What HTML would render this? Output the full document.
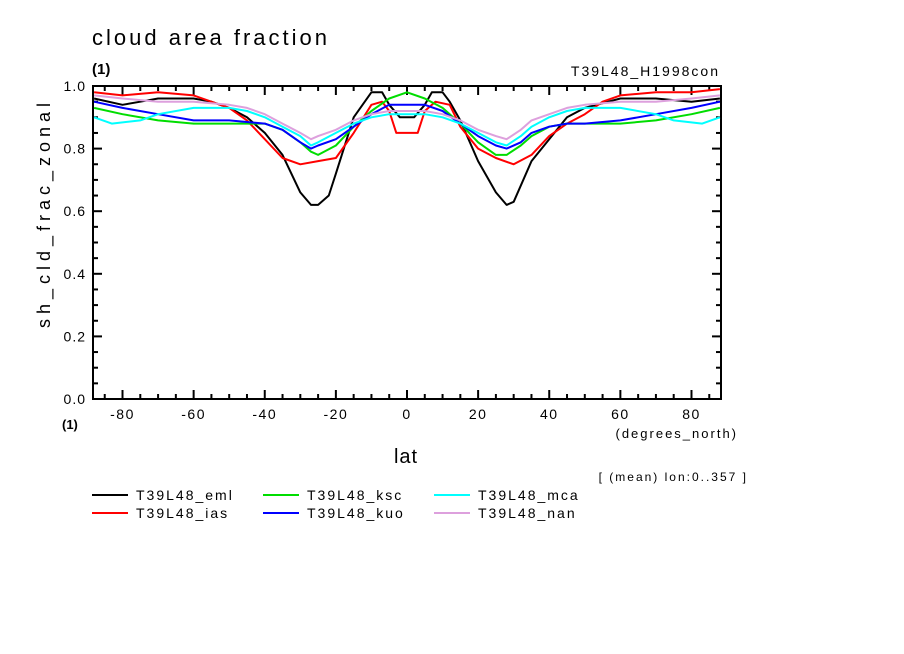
<!DOCTYPE html>
<html><head><meta charset="utf-8"><style>
body{margin:0;background:#fff;}
svg{display:block;font-family:"Liberation Sans",sans-serif;}
</style></head><body>
<svg id="chart" width="904" height="654" viewBox="0 0 904 654" xmlns="http://www.w3.org/2000/svg">
<rect width="904" height="654" fill="#fff"/>
<text x="92" y="45" font-size="22" letter-spacing="3">cloud area fraction</text>
<text x="92" y="74" font-size="15" font-weight="bold">(1)</text>
<text x="720" y="76" font-size="14" letter-spacing="2" text-anchor="end">T39L48_H1998con</text>
<text transform="translate(50,213) rotate(-90)" font-size="18" letter-spacing="5" text-anchor="middle">sh_cld_frac_zonal</text>
<text x="62" y="429" font-size="13" font-weight="bold">(1)</text>
<text x="738" y="438" font-size="13" letter-spacing="2" text-anchor="end">(degrees_north)</text>
<text x="406" y="463" font-size="20" letter-spacing="1" text-anchor="middle">lat</text>
<text x="748" y="481" font-size="12" letter-spacing="2" text-anchor="end">[ (mean) lon:0..357 ]</text>
<g id="axes"></g>
<g id="series"></g>
<g id="legend"></g>
</svg>
<script>
const yTicks=[0,0.2,0.4,0.6,0.8,1.0];
const xTicks=[-80,-60,-40,-20,0,20,40,60,80];
const names=["T39L48_eml","T39L48_ias","T39L48_ksc","T39L48_kuo","T39L48_mca","T39L48_nan"];
const colors=["#000000","#ff0000","#00dd00","#0000ff","#00ffff","#dda0dd"];
const latEml=[-88,-80,-75,-70,-65,-60,-55,-50,-45,-40,-35,-30,-27,-25,-22,-20,-15,-10,-7,-5,-2,0,2,5,7,10,12,15,20,25,28,30,35,40,45,50,60,70,80,88];
const valEml=[0.96,0.94,0.95,0.96,0.96,0.96,0.95,0.93,0.90,0.85,0.78,0.66,0.62,0.62,0.65,0.72,0.90,0.98,0.98,0.94,0.90,0.90,0.90,0.94,0.98,0.98,0.95,0.89,0.76,0.66,0.62,0.63,0.76,0.83,0.90,0.93,0.96,0.96,0.95,0.96];
const latIas=[-88,-80,-70,-60,-50,-45,-40,-35,-30,-25,-20,-15,-10,-7,-5,-3,0,3,5,8,12,15,20,25,30,35,40,45,50,55,60,70,80,88];
const valIas=[0.98,0.97,0.98,0.97,0.93,0.89,0.83,0.77,0.75,0.76,0.77,0.85,0.94,0.95,0.92,0.85,0.85,0.85,0.92,0.95,0.94,0.87,0.80,0.77,0.75,0.78,0.84,0.88,0.91,0.95,0.97,0.98,0.98,0.99];
const latKsc=[-88,-80,-70,-60,-50,-40,-35,-30,-27,-25,-20,-15,-10,-5,0,5,10,15,20,25,28,32,35,40,45,50,60,70,80,88];
const valKsc=[0.93,0.91,0.89,0.88,0.88,0.88,0.86,0.82,0.79,0.78,0.81,0.87,0.92,0.96,0.98,0.96,0.93,0.88,0.82,0.78,0.78,0.81,0.84,0.87,0.88,0.88,0.88,0.89,0.91,0.93];
const latKuo=[-88,-80,-70,-60,-50,-40,-35,-30,-27,-25,-20,-15,-10,-5,0,5,10,15,20,25,28,32,35,40,45,50,60,70,80,88];
const valKuo=[0.95,0.93,0.91,0.89,0.89,0.88,0.86,0.82,0.80,0.81,0.83,0.87,0.91,0.94,0.94,0.94,0.92,0.88,0.84,0.81,0.80,0.82,0.85,0.87,0.88,0.88,0.89,0.91,0.93,0.95];
const latMca=[-88,-83,-75,-70,-60,-50,-45,-40,-35,-30,-27,-25,-20,-15,-10,-5,0,5,10,15,20,25,28,32,35,40,45,50,60,70,75,83,88];
const valMca=[0.90,0.88,0.89,0.91,0.93,0.93,0.92,0.90,0.87,0.84,0.81,0.82,0.85,0.88,0.90,0.91,0.91,0.91,0.90,0.88,0.85,0.82,0.81,0.84,0.87,0.90,0.92,0.93,0.93,0.91,0.89,0.88,0.90];
const latNan=[-88,-80,-70,-60,-50,-45,-40,-35,-30,-27,-25,-20,-15,-10,-5,0,5,10,15,20,25,28,32,35,40,45,50,60,70,80,88];
const valNan=[0.97,0.96,0.95,0.95,0.94,0.93,0.91,0.88,0.85,0.83,0.84,0.86,0.89,0.91,0.92,0.92,0.92,0.91,0.89,0.86,0.84,0.83,0.86,0.89,0.91,0.93,0.94,0.95,0.95,0.96,0.97];
const lats=[latEml,latIas,latKsc,latKuo,latMca,latNan];
const vals=[valEml,valIas,valKsc,valKuo,valMca,valNan];

const L=93,R=721,T=86,B=399,xmin=-88.3,xmax=88.3;
function sx(v){return L+(v-xmin)/(xmax-xmin)*(R-L);}
function sy(v){return B-v*(B-T);}
const NS="http://www.w3.org/2000/svg";
function mk(tag,attrs,parent,txt){const e=document.createElementNS(NS,tag);for(const k in attrs)e.setAttribute(k,attrs[k]);if(txt!==undefined)e.textContent=txt;parent.appendChild(e);return e;}
const axes=document.getElementById('axes');
const frame=mk('rect',{x:L,y:T,width:R-L,height:B-T,fill:'none',stroke:'#000','stroke-width':2},axes);


for(let v=0;v<=1.0001;v+=0.05){
  const major=Math.abs(v*5-Math.round(v*5))<1e-6;const len=major?9:5;const y=sy(v);
  mk('line',{x1:L,y1:y,x2:L+len,y2:y,stroke:'#000','stroke-width':2},axes);
  mk('line',{x1:R,y1:y,x2:R-len,y2:y,stroke:'#000','stroke-width':2},axes);
}
yTicks.forEach(v=>{const t=mk('text',{x:L-7,y:sy(v)+5,'font-size':14,'letter-spacing':1,'text-anchor':'end'},axes,v.toFixed(1));

});
for(let v=-85;v<=85;v+=5){
  const major=v%20===0;const len=major?9:5;const x=sx(v);
  mk('line',{x1:x,y1:B,x2:x,y2:B-len,stroke:'#000','stroke-width':2},axes);
  mk('line',{x1:x,y1:T,x2:x,y2:T+len,stroke:'#000','stroke-width':2},axes);
}
xTicks.forEach(v=>{const t=mk('text',{x:sx(v),y:B+20,'font-size':14,'letter-spacing':1.5,'text-anchor':'middle'},axes,String(v));

});
const sg=document.getElementById('series');
vals.forEach((arr,i)=>{
  const pts=arr.map((v,j)=>sx(lats[i][j]).toFixed(1)+','+sy(v).toFixed(1)).join(' ');
  const p=mk('polyline',{points:pts,fill:'none',stroke:colors[i],'stroke-width':2,'stroke-linejoin':'round'},sg);
  
  
});
const lg=document.getElementById('legend');
names.forEach((n,i)=>{
  const col=Math.floor(i/2),row=i%2;const x=92+col*171,y=495+row*18;
  const g=mk('g',{},lg);
  
  
  mk('line',{x1:x,y1:y,x2:x+36,y2:y,stroke:colors[i],'stroke-width':2},g);
  mk('text',{x:x+44,y:y+5,'font-size':14,'letter-spacing':2},g,n);
});
</script>
</body></html>
